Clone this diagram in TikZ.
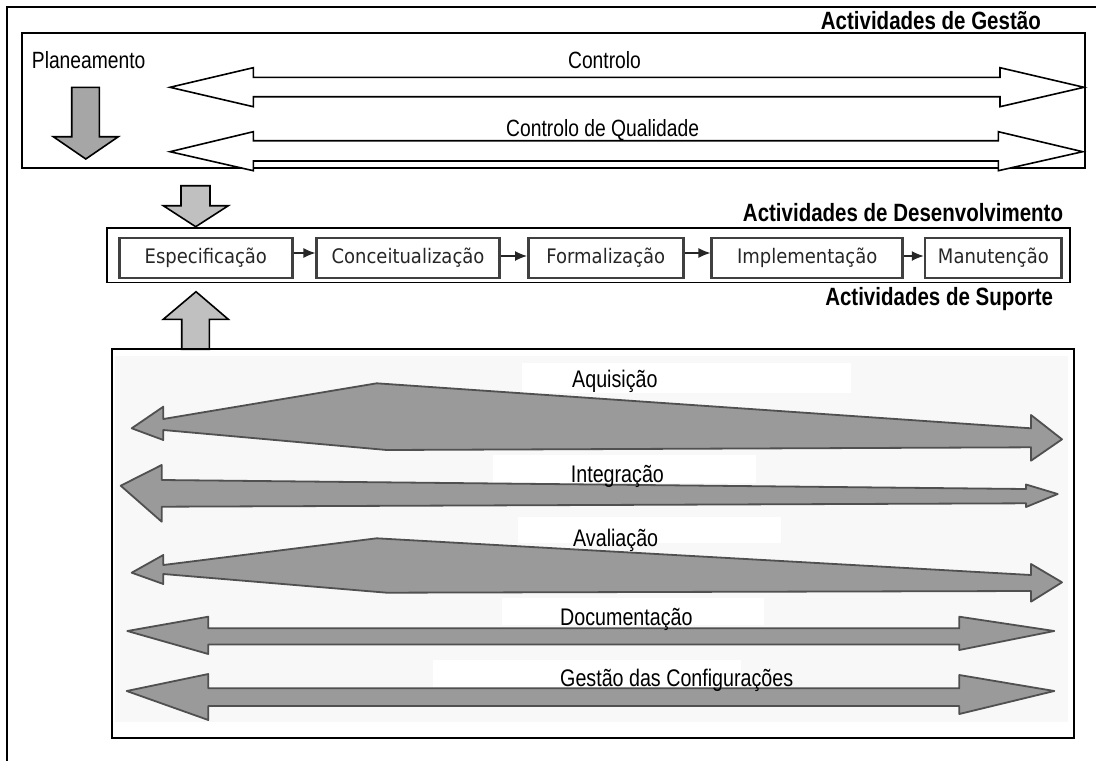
\documentclass[tikz,border=0pt]{standalone}
\usepackage{fontspec}
\usetikzlibrary{arrows.meta}
\newfontfamily\narrowfont[FakeStretch=0.82]{Liberation Sans}
\newfontfamily\boxfont[FakeStretch=0.9]{DejaVu Sans}
\definecolor{suparrowfill}{HTML}{9A9A9A}
\definecolor{suparrowline}{HTML}{505050}
\definecolor{planfill}{HTML}{A6A6A6}
\definecolor{smallfill}{HTML}{C0C0C0}
\definecolor{supbg}{HTML}{F8F8F8}
\tikzset{
  lbl/.style={inner sep=0pt, font=\narrowfont\fontsize{23.5}{28}\selectfont},
  slbl/.style={inner sep=0pt, anchor=base west, font=\narrowfont\fontsize{24}{28}\selectfont},
  ttl/.style={inner sep=0pt, anchor=base east, font=\narrowfont\bfseries\fontsize{25}{30}\selectfont},
  groupbox/.style={draw=black, line width=1.8pt, inner sep=0pt},
  devbox/.style={draw=black!75, line width=2.6pt, fill=white, inner sep=0pt, minimum height=40pt,
    font=\boxfont\fontsize{20}{24}\selectfont, text=black!85},
  devarrow/.style={draw=black!85, line width=1.2pt, -{Latex[length=12pt,width=10pt]}},
  mgarrow/.style={draw=black, line width=1.6pt, fill=white, line join=miter},
  suparrow/.style={draw=suparrowline, line width=1.8pt, fill=suparrowfill, line join=round},
  blockarrow/.style={draw=black, line width=1.6pt, line join=miter},
  framelines/.style={draw=black, line width=1.8pt},
  patch/.style={fill=white, draw=none},
}
\begin{document}
\begin{tikzpicture}[x=1pt,y=-1pt]
\useasboundingbox (0,0) rectangle (1096,761);
% outer frame (top and left)
\draw[framelines] (7.3,761) -- (7.3,7.3) -- (1096,7.3);

% ---------- management ----------
\node[groupbox, minimum width=1063.3pt, minimum height=135.6pt] (mgmt) at (553.35,100.5) {};
\node[ttl] (tgest) at (1041,29.3) {Actividades de Gestão};
\node[lbl, anchor=base west] (plan) at (31.7,68.3) {Planeamento};
\node[lbl, anchor=base] (ctrl) at (604.5,68.3) {Controlo};
\node[lbl, anchor=base west] (cq) at (506,136) {Controlo de Qualidade};
% Planeamento arrow
\draw[blockarrow, fill=planfill] (71.7,87.3) -- (99.3,87.3) -- (99.3,136.7) -- (118.3,136.7) -- (85.8,159)
  -- (53.3,136.7) -- (71.7,136.7) -- cycle;
% Controlo arrow
\draw[mgarrow] (170,87.3) -- (253.3,67.7) -- (253.3,77.3) -- (1000,77.3) -- (1000,67.7) -- (1084,87.3)
  -- (1000,106.7) -- (1000,96.7) -- (253.3,96.7) -- (253.3,106.7) -- cycle;
% Controlo de Qualidade arrow
\draw[mgarrow] (170,151.7) -- (253.3,131.7) -- (253.3,140.7) -- (998.3,140.7) -- (998.3,131.7) -- (1082.7,151.7)
  -- (998.3,170.7) -- (998.3,161) -- (253.3,161) -- (253.3,170.7) -- cycle;

% ---------- development ----------
\draw[blockarrow, fill=smallfill] (181,185.7) -- (210,185.7) -- (210,205.7) -- (228.3,205.7) -- (195.7,226.7)
  -- (163.3,205.7) -- (181,205.7) -- cycle;
\node[groupbox, minimum width=962.7pt, minimum height=54.5pt] (dev) at (588.65,255.25) {};
\node[ttl] (tdev) at (1063.3,221.7) {Actividades de Desenvolvimento};
\node[devbox, minimum width=173pt] (esp) at (205.8,258) {Especificação};
\node[devbox, minimum width=182.6pt] (con) at (408,258) {Conceitualização};
\node[devbox, minimum width=155pt] (for) at (605.8,258) {Formalização};
\node[devbox, minimum width=191pt] (imp) at (807.2,258) {Implementação};
\node[devbox, minimum width=136.7pt] (man) at (993.4,258) {Manutenção};
\draw[devarrow] ([yshift=5pt]esp.east) -- ([yshift=5pt]con.west);
\draw[devarrow] ([yshift=2pt]con.east) -- ([yshift=2pt]for.west);
\draw[devarrow] ([yshift=5pt]for.east) -- ([yshift=5pt]imp.west);
\draw[devarrow] ([yshift=2pt]imp.east) -- ([yshift=2pt]man.west);

% ---------- support ----------
\draw[blockarrow, fill=smallfill] (196,291.7) -- (228.3,319.3) -- (209.3,319.3) -- (209.3,349.3) -- (181.7,349.3)
  -- (181.7,319.3) -- (163.3,319.3) -- cycle;
\node[ttl] (tsup) at (1053.3,305) {Actividades de Suporte};
\node[groupbox, minimum width=961.7pt, minimum height=389pt] (sup) at (593.15,543.8) {};
\fill[supbg] (115,356) rectangle (1068,722);
% white patches behind labels
\fill[patch] (521.7,363) rectangle (851,393);
\fill[patch] (493,455) rectangle (756,483);
\fill[patch] (518.3,516.7) rectangle (781,543.3);
\fill[patch] (501.7,598) rectangle (764,625);
\fill[patch] (433,660) rectangle (741,687);
% Aquisicao
\draw[suparrow] (131.7,428.3) -- (163.3,406.7) -- (163.3,419) -- (376.7,383.3) -- (1031,428.3) -- (1031,415)
  -- (1062,439.3) -- (1031,460.7) -- (1031,447.3) -- (386.7,450) -- (163.3,430) -- (163.3,440) -- cycle;
% Integracao
\draw[suparrow] (120.7,485.7) -- (161.7,465) -- (161.7,480) -- (1026,489) -- (1026,484.5) -- (1057.7,494)
  -- (1026,507) -- (1026,503.3) -- (161.7,506.7) -- (161.7,521.7) -- cycle;
% Avaliacao
\draw[suparrow] (131.7,572.7) -- (163.3,555) -- (163.3,565) -- (376.7,538.3) -- (1031,575) -- (1031,564)
  -- (1062,582.3) -- (1031,601.7) -- (1031,591) -- (386.7,592.7) -- (163.3,574) -- (163.3,584) -- cycle;
% Documentacao
\draw[suparrow] (127.3,631) -- (208.3,616.7) -- (208.3,628.3) -- (959.3,628.3) -- (959.3,616.7) -- (1054.3,631)
  -- (959.3,650) -- (959.3,644.5) -- (208.3,644.5) -- (208.3,654) -- cycle;
% Gestao das Configuracoes
\draw[suparrow] (126.7,691) -- (208.3,674) -- (208.3,688.3) -- (959.3,688.3) -- (959.3,675) -- (1054.3,691)
  -- (959.3,714) -- (959.3,706) -- (208.3,706) -- (208.3,720) -- cycle;
\node[slbl] (aq) at (572,387) {Aquisição};
\node[slbl] (int) at (570.7,482) {Integração};
\node[slbl] (av) at (573,546) {Avaliação};
\node[slbl] (doc) at (560,625) {Documentação};
\node[slbl] (gc) at (560,686) {Gestão das Configurações};
\end{tikzpicture}
\end{document}
